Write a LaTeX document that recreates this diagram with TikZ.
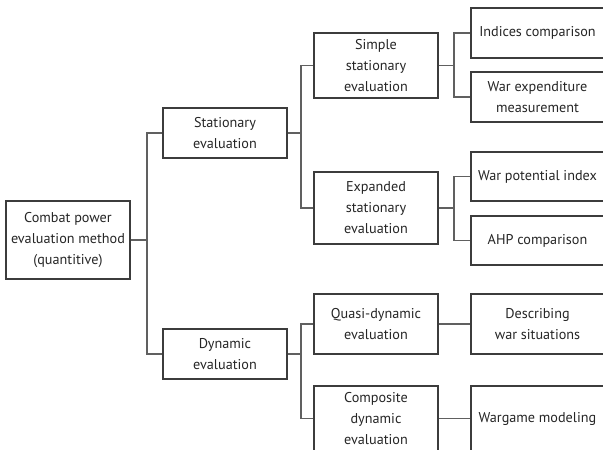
\documentclass[tikz,border=0pt]{standalone}
\usepackage{fontspec}
\setmainfont{PT Sans}
\begin{document}
\begin{tikzpicture}[x=1pt,y=-1pt,
  box/.style={draw=boxc, line width=1.3pt, fill=white, align=center, inner sep=0pt,
    text=black!85, font=\fontsize{14.2}{21}\selectfont},
  w1/.style={box, minimum width=124pt},
  w3/.style={box, minimum width=133pt},
  link/.style={draw=linec, line width=1.2pt}]
\definecolor{boxc}{HTML}{3C3C3C}
\definecolor{linec}{HTML}{606060}
\useasboundingbox (0,0) rectangle (603,450);
\clip (0,0) rectangle (603,450);
% nodes
\node[w1, minimum height=78pt] (root) at (68,240) {Combat power\\evaluation method\\(quantitive)};
\node[w1, minimum height=50pt] (stat) at (225,133) {Stationary\\evaluation};
\node[w1, minimum height=50pt] (dyn) at (225,354) {Dynamic\\evaluation};
\node[w1, minimum height=65pt] (simple) at (376,65.5) {Simple\\stationary\\evaluation};
\node[w1, minimum height=72pt] (exp) at (376,208) {Expanded\\stationary\\evaluation};
\node[w1, minimum height=60pt] (quasi) at (376,324) {Quasi-dynamic\\evaluation};
\node[w1, minimum height=65pt] (comp) at (376,418.5) {Composite\\dynamic\\evaluation};
\node[w3, minimum height=50pt] (ind) at (537.5,33) {Indices comparison};
\node[w3, minimum height=50pt] (wexp) at (537.5,97) {War expenditure\\measurement};
\node[w3, minimum height=49pt] (wpot) at (537.5,176.5) {War potential index};
\node[w3, minimum height=49pt] (ahp) at (537.5,240.5) {AHP comparison};
\node[w3, minimum height=60pt] (desc) at (537.5,324) {Describing\\war situations};
\node[w3, minimum height=65pt] (war) at (537.5,418.5) {Wargame modeling};
% connectors
\coordinate (j0) at (147,240);
\coordinate (j1) at (301,133);
\coordinate (j2) at (301,354);
\coordinate (j3) at (454,65.5);
\coordinate (j4) at (454,208);
\draw[link] (root.east) -- (j0);
\draw[link] (j0) |- (stat.west);
\draw[link] (j0) |- (dyn.west);
\draw[link] (stat.east) -- (j1);
\draw[link] (j1) |- (simple.west);
\draw[link] (j1) |- (exp.west);
\draw[link] (dyn.east) -- (j2);
\draw[link] (j2) |- (quasi.west);
\draw[link] (j2) |- (comp.west);
\draw[link] (simple.east) -- (j3);
\draw[link] (j3) |- (ind.west);
\draw[link] (j3) |- (wexp.west);
\draw[link] (exp.east) -- (j4);
\draw[link] (j4) |- (wpot.west);
\draw[link] (j4) |- (ahp.west);
\draw[link] (quasi) -- (desc);
\draw[link] (comp) -- (war);
\end{tikzpicture}
\end{document}
